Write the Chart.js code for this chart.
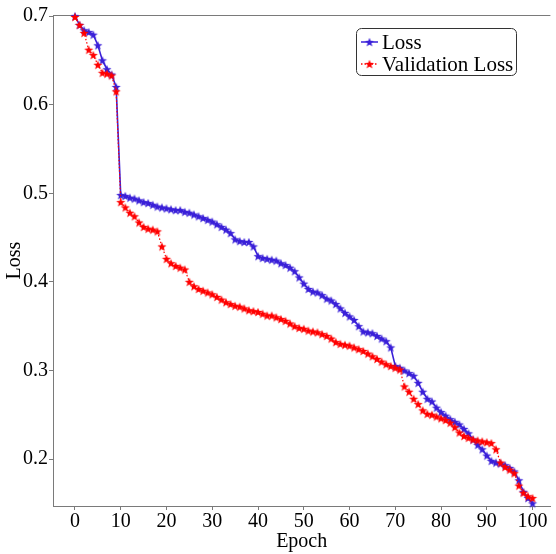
<!DOCTYPE html>
<html lang="fr">
<head>
<meta charset="UTF-8">
<title>Courbe Loss</title>
<script src="https://cdn.jsdelivr.net/npm/chart.js@4.4.1/dist/chart.umd.min.js"></script>
<style>
  html, body { margin: 0; padding: 0; background: #ffffff; }
  #zone { width: 556px; height: 554px; }
  .precharge { font-family: "Liberation Serif", "DejaVu Serif", serif; position: absolute; left: -999px; top: 0; font-size: 20px; }
</style>
</head>
<body>
<span class="precharge">Loss Epoch 0.7</span>
<div id="zone"><canvas id="myChartLoss"></canvas></div>
<script>
//? Données de la courbe.

const epochs = [
  0, 1, 2, 3, 4, 5, 6, 7, 8, 9, 10, 11, 12, 13, 14, 15, 16, 17, 18, 19, 20,
  21, 22, 23, 24, 25, 26, 27, 28, 29, 30, 31, 32, 33, 34, 35, 36, 37, 38, 39, 40,
  41, 42, 43, 44, 45, 46, 47, 48, 49, 50, 51, 52, 53, 54, 55, 56, 57, 58, 59, 60,
  61, 62, 63, 64, 65, 66, 67, 68, 69, 70, 71, 72, 73, 74, 75, 76, 77, 78, 79, 80,
  81, 82, 83, 84, 85, 86, 87, 88, 89, 90, 91, 92, 93, 94, 95, 96, 97, 98, 99, 100,
];

const valeursLoss = [
  0.700, 0.690, 0.684, 0.682, 0.679, 0.667, 0.650, 0.640, 0.634, 0.620,
  0.498, 0.497, 0.495, 0.494, 0.492, 0.490, 0.489, 0.487, 0.485, 0.484,
  0.483, 0.482, 0.481, 0.481, 0.479, 0.478, 0.476, 0.474, 0.472, 0.470,
  0.468, 0.465, 0.462, 0.459, 0.455, 0.448, 0.446, 0.445, 0.445, 0.440,
  0.429, 0.427, 0.426, 0.425, 0.424, 0.421, 0.419, 0.416, 0.412, 0.405,
  0.398, 0.392, 0.389, 0.388, 0.385, 0.381, 0.379, 0.375, 0.370, 0.365,
  0.361, 0.357, 0.350, 0.344, 0.343, 0.342, 0.339, 0.336, 0.333, 0.326,
  0.305, 0.303, 0.300, 0.297, 0.294, 0.286, 0.276, 0.268, 0.265, 0.258,
  0.253, 0.249, 0.245, 0.242, 0.239, 0.234, 0.229, 0.222, 0.216, 0.211,
  0.204, 0.198, 0.196, 0.195, 0.193, 0.190, 0.186, 0.176, 0.163, 0.156,
  0.150,
];

const valeursValidationLoss = [
  0.699, 0.690, 0.681, 0.662, 0.656, 0.645, 0.636, 0.635, 0.633, 0.615,
  0.490, 0.484, 0.478, 0.474, 0.467, 0.462, 0.460, 0.459, 0.457, 0.440,
  0.426, 0.421, 0.418, 0.416, 0.414, 0.400, 0.395, 0.392, 0.390, 0.388,
  0.386, 0.383, 0.380, 0.377, 0.375, 0.373, 0.372, 0.370, 0.368, 0.367,
  0.366, 0.364, 0.362, 0.362, 0.360, 0.358, 0.356, 0.353, 0.350, 0.348,
  0.347, 0.345, 0.344, 0.343, 0.341, 0.339, 0.336, 0.332, 0.330, 0.329,
  0.328, 0.326, 0.324, 0.322, 0.319, 0.316, 0.313, 0.310, 0.307, 0.305,
  0.303, 0.301, 0.282, 0.276, 0.268, 0.262, 0.255, 0.251, 0.250, 0.248,
  0.246, 0.244, 0.241, 0.236, 0.230, 0.226, 0.224, 0.222, 0.221, 0.220,
  0.219, 0.218, 0.211, 0.196, 0.191, 0.188, 0.184, 0.170, 0.162, 0.158,
  0.156,
];

const ticksEpoch = [0, 10, 20, 30, 40, 50, 60, 70, 80, 90, 100];
const ticksLoss = [0.2, 0.3, 0.4, 0.5, 0.6, 0.7];

const nomLoss = "Loss";
const nomValidationLoss = "Validation Loss";

//? -------------------------------------------------

//? Styles.

const couleurLoss = "#3a20d8";
const couleurValidation = "#ff0000";
const couleurAxe = "#7a7a7a";
const policeSerif = '"Liberation Serif", "DejaVu Serif", serif';

//? Etoile pleine façon matplotlib '*'.

const creerEtoile = (couleur, rayon) => {
  const taille = Math.ceil(rayon * 2 + 2);
  const c = document.createElement("canvas");
  c.width = taille;
  c.height = taille;
  const ctx = c.getContext("2d");
  const cx = taille / 2;
  const cy = taille / 2 + 0.5;
  ctx.beginPath();
  for (let k = 0; k < 10; k++) {
    const r = k % 2 === 0 ? rayon : rayon * 0.42;
    const a = -Math.PI / 2 + (k * Math.PI) / 5;
    const px = cx + r * Math.cos(a);
    const py = cy + r * Math.sin(a);
    if (k === 0) ctx.moveTo(px, py);
    else ctx.lineTo(px, py);
  }
  ctx.closePath();
  ctx.fillStyle = couleur;
  ctx.fill();
  return c;
};

const etoileLoss = creerEtoile(couleurLoss, 4.8);
const etoileValidation = creerEtoile(couleurValidation, 4.8);

//? -------------------------------------------------

//? Plugin : bord du haut + légende encadrée.

const pluginCadre = {
  id: "cadre",
  beforeDatasetsDraw(chart) {
    const { ctx, chartArea } = chart;
    ctx.save();
    ctx.strokeStyle = couleurAxe;
    ctx.lineWidth = 1;
    ctx.beginPath();
    ctx.moveTo(chartArea.left, chartArea.top + 0.5);
    ctx.lineTo(chartArea.right, chartArea.top + 0.5);
    ctx.stroke();
    ctx.restore();
  },
  afterDraw(chart) {
    const { ctx } = chart;
    ctx.save();
    const x0 = 356.5;
    const y0 = 28.5;
    const w = 160;
    const h = 47;
    ctx.beginPath();
    ctx.roundRect(x0, y0, w, h, 5);
    ctx.fillStyle = "#ffffff";
    ctx.fill();
    ctx.strokeStyle = "#333333";
    ctx.lineWidth = 1;
    ctx.stroke();

    const lignes = [
      { nom: nomLoss, couleur: couleurLoss, etoile: etoileLoss, dash: [], y: 42 },
      { nom: nomValidationLoss, couleur: couleurValidation, etoile: etoileValidation, dash: [1.5, 2], y: 64 },
    ];
    lignes.forEach((l) => {
      ctx.beginPath();
      ctx.setLineDash(l.dash);
      ctx.strokeStyle = l.couleur;
      ctx.lineWidth = 1.5;
      ctx.moveTo(361, l.y);
      ctx.lineTo(378, l.y);
      ctx.stroke();
      ctx.setLineDash([]);
      ctx.drawImage(l.etoile, 369.5 - l.etoile.width / 2, l.y - l.etoile.height / 2);
      ctx.fillStyle = "#000000";
      ctx.font = "21px " + policeSerif;
      ctx.textBaseline = "middle";
      ctx.textAlign = "left";
      ctx.fillText(l.nom, 382, l.y + 1);
    });
    ctx.restore();
  },
};

//? -------------------------------------------------

//? Construction du graphique.

const constructionDuGraphiqueLoss = () => {
  try {
    const ctxLoss = document.getElementById("myChartLoss").getContext("2d");

    const pointsLoss = epochs.map((e, i) => ({ x: e, y: valeursLoss[i] }));
    const pointsValidation = epochs.map((e, i) => ({ x: e, y: valeursValidationLoss[i] }));

    const data = {
      datasets: [
        {
          label: nomLoss,
          data: pointsLoss,
          borderColor: couleurLoss,
          backgroundColor: couleurLoss,
          borderWidth: 1.6,
          pointStyle: etoileLoss,
          pointRadius: 4,
          tension: 0,
          clip: false,
          order: 2,
        },
        {
          label: nomValidationLoss,
          data: pointsValidation,
          borderColor: couleurValidation,
          backgroundColor: couleurValidation,
          borderWidth: 1.2,
          borderDash: [1.5, 2],
          pointStyle: etoileValidation,
          pointRadius: 4,
          tension: 0,
          clip: false,
          order: 1,
        },
      ],
    };

    const grille = {
      display: true,
      drawOnChartArea: false,
      drawTicks: true,
      tickLength: 4,
      color: couleurAxe,
    };

    const optionsLoss = {
      responsive: true,
      maintainAspectRatio: false,
      animation: false,
      layout: { padding: { top: 15, left: 0, right: 0, bottom: 0 } },
      plugins: {
        legend: { display: false },
        tooltip: { enabled: false },
      },
      scales: {
        x: {
          type: "linear",
          min: -4.8,
          max: 103.9,
          afterBuildTicks: (scale) => {
            scale.ticks = ticksEpoch.map((v) => ({ value: v }));
          },
          afterFit: (scale) => {
            scale.height = 48;
          },
          grid: grille,
          border: { display: true, color: couleurAxe, width: 1 },
          ticks: {
            color: "#000000",
            font: { family: policeSerif, size: 20 },
            padding: 0,
            maxRotation: 0,
            callback: (v) => String(v),
          },
          title: {
            display: true,
            text: "Epoch",
            color: "#000000",
            font: { family: policeSerif, size: 20 },
            padding: { top: 0, bottom: 0 },
          },
        },
        y: {
          type: "linear",
          min: 0.147,
          max: 0.7012,
          afterBuildTicks: (scale) => {
            scale.ticks = ticksLoss.map((v) => ({ value: v }));
          },
          afterFit: (scale) => {
            scale.width = 53;
          },
          grid: grille,
          border: { display: true, color: couleurAxe, width: 1 },
          ticks: {
            color: "#000000",
            font: { family: policeSerif, size: 20 },
            padding: 1,
            callback: (v) => Number(v).toFixed(1),
          },
          title: {
            display: true,
            text: "Loss",
            color: "#000000",
            font: { family: policeSerif, size: 20 },
            padding: { top: 3, bottom: 0 },
          },
        },
      },
    };

    new Chart(ctxLoss, {
      type: "line",
      data,
      options: optionsLoss,
      plugins: [pluginCadre],
    });
  } catch (error) {
    console.error("ERREUR | Construction graphique Loss :", error);
  }
};

//? Lancer la construction une fois la police prête.

(async function lancerCourbeLoss() {
  try {
    await document.fonts.load('20px "Liberation Serif"');
  } catch (error) {
    console.error("ERREUR | Chargement police :", error);
  }
  constructionDuGraphiqueLoss();
})();
</script>
</body>
</html>
